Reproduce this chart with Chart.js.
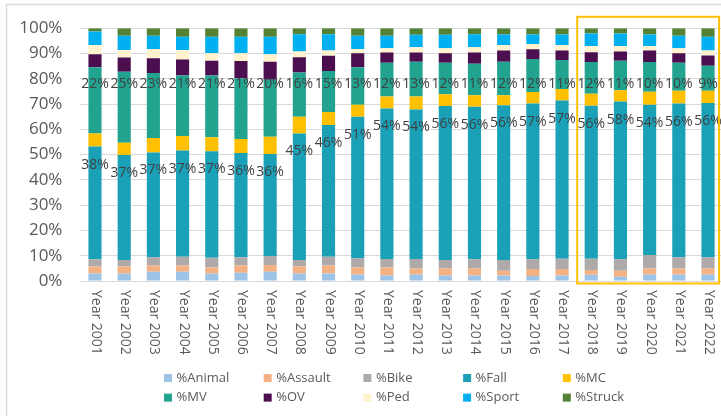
<!DOCTYPE html>
<html>
<head>
<meta charset="utf-8">
<script src="https://cdn.jsdelivr.net/npm/chart.js"></script>
<style>
  html, body { margin: 0; padding: 0; background: #fff; overflow: hidden; }
  #wrap { position: absolute; left: 0; top: 0; width: 728px; height: 416px; }
</style>
</head>
<body>
<div id="wrap"><canvas id="injuryChart"></canvas></div>
<script>
const years = [2001, 2002, 2003, 2004, 2005, 2006, 2007, 2008, 2009, 2010, 2011,
               2012, 2013, 2014, 2015, 2016, 2017, 2018, 2019, 2020, 2021, 2022];

// share of each bar (percent of the stack)
const animal  = [3.0, 3.0, 3.7, 3.7, 3.0, 3.3, 3.7, 3.0, 3.0, 2.6, 2.2, 2.6, 2.2, 2.2, 2.2, 2.0, 2.2, 2.5, 1.7, 2.6, 2.6, 2.6];
const assault = [2.7, 2.7, 2.4, 2.4, 2.3, 2.8, 2.6, 2.7, 3.1, 2.7, 3.1, 2.3, 2.7, 2.7, 1.9, 2.7, 2.5, 1.9, 2.4, 2.3, 2.3, 2.3];
const bike    = [2.9, 2.6, 3.3, 3.5, 3.9, 3.3, 3.6, 2.6, 3.5, 3.7, 3.4, 3.8, 3.4, 3.7, 4.2, 3.9, 4.1, 4.4, 4.5, 5.4, 4.5, 4.5];
const fall    = [44.6, 41.6, 41.5, 42.0, 42.1, 41.3, 40.4, 50.1, 52.1, 56.0, 59.6, 59.2, 61.0, 60.4, 61.2, 61.6, 62.6, 60.6, 62.4, 59.4, 60.8, 61.0];
const mc      = [5.2, 4.8, 5.7, 5.8, 5.6, 5.5, 6.8, 6.6, 5.2, 4.7, 4.7, 5.1, 4.6, 4.5, 4.0, 4.6, 4.6, 4.7, 4.5, 5.2, 5.1, 4.9];
const mv      = [26.2, 28.1, 25.7, 23.9, 24.4, 24.0, 22.5, 17.5, 16.2, 14.9, 13.4, 13.8, 12.5, 12.5, 13.3, 13.1, 11.5, 12.6, 11.7, 11.8, 11.1, 9.9];
const ov      = [5.1, 5.6, 5.8, 6.4, 5.9, 6.9, 7.2, 6.0, 6.0, 5.5, 4.0, 3.6, 3.7, 4.4, 4.4, 3.8, 3.7, 3.8, 3.6, 4.5, 3.7, 4.0];
const ped     = [3.7, 3.0, 3.7, 3.7, 2.9, 3.0, 2.9, 2.3, 2.1, 1.7, 1.7, 2.1, 2.0, 2.1, 2.2, 2.1, 2.2, 2.5, 2.2, 1.8, 2.0, 2.0];
const sport   = [5.3, 5.7, 5.3, 5.3, 6.6, 6.6, 7.0, 6.8, 6.4, 5.3, 5.0, 4.9, 5.3, 5.1, 4.1, 3.7, 4.1, 4.9, 4.9, 4.5, 5.0, 5.5];
const struck  = [1.3, 2.9, 2.9, 3.3, 3.3, 3.3, 3.3, 2.4, 2.4, 2.9, 2.9, 2.6, 2.6, 2.4, 2.5, 2.5, 2.5, 2.1, 2.1, 2.5, 2.9, 3.3];

// printed data labels
const fallLabels = [38, 37, 37, 37, 37, 36, 36, 45, 46, 51, 54, 54, 56, 56, 56, 57, 57, 56, 58, 54, 56, 56];
const mvLabels   = [22, 25, 23, 21, 21, 21, 20, 16, 15, 13, 12, 13, 12, 11, 12, 12, 11, 12, 11, 10, 10, 9];

const seriesNames = ['%Animal', '%Assault', '%Bike', '%Fall', '%MC', '%MV', '%OV', '%Ped', '%Sport', '%Struck'];
const seriesData = [animal, assault, bike, fall, mc, mv, ov, ped, sport, struck];
const seriesColors = ['#9DC3E6', '#F4B183', '#AEAAAA', '#1AA1B8', '#FFC000',
                      '#22A38F', '#4B0F50', '#FFF2CC', '#00B0F0', '#548235'];

const FONT = "'Open Sans', sans-serif";
const GREY = '#595959';

// 100% stacked: scale each year to its total
const totals = years.map((y, i) => seriesData.reduce((s, arr) => s + arr[i], 0));

const datasets = seriesNames.map((name, k) => ({
    label: name,
    data: seriesData[k].map((v, i) => v / totals[i] * 100),
    backgroundColor: seriesColors[k],
    borderWidth: 0,
    barPercentage: 0.45,
    categoryPercentage: 1
}));

const extras = {
    id: 'extras',
    beforeDraw(chart) {
        const ctx = chart.ctx;
        ctx.save();
        ctx.strokeStyle = '#D9D9D9';
        ctx.lineWidth = 1.5;
        ctx.strokeRect(6.5, 4.5, chart.width, chart.height);
        ctx.restore();
    },
    afterDatasetsDraw(chart) {
        const ctx = chart.ctx;
        const yScale = chart.scales.y;
        const fallBars = chart.getDatasetMeta(3).data;
        ctx.save();
        ctx.font = '14px ' + FONT;
        ctx.fillStyle = '#404040';
        ctx.textAlign = 'center';
        ctx.textBaseline = 'middle';
        fallBars.forEach((bar, i) => {
            ctx.fillText(fallLabels[i] + '%', bar.x, bar.y + 18);
        });
        const mvY = yScale.getPixelForValue(78);
        chart.getDatasetMeta(5).data.forEach((bar, i) => {
            ctx.fillText(mvLabels[i] + '%', bar.x, mvY);
        });
        ctx.restore();
    },
    afterDraw(chart) {
        const ctx = chart.ctx;
        const area = chart.chartArea;
        const xScale = chart.scales.x;
        const catW = xScale.getPixelForValue(1) - xScale.getPixelForValue(0);

        // x labels, rotated clockwise
        ctx.save();
        ctx.font = '14px ' + FONT;
        ctx.fillStyle = GREY;
        ctx.textAlign = 'left';
        ctx.textBaseline = 'middle';
        years.forEach((yr, i) => {
            ctx.save();
            ctx.translate(xScale.getPixelForValue(i) + 1, area.bottom + 9);
            ctx.rotate(Math.PI / 2);
            ctx.fillText('Year ' + yr, 0, 0);
            ctx.restore();
        });
        ctx.restore();

        // highlight box round the last five years
        ctx.save();
        ctx.strokeStyle = '#FFC000';
        ctx.lineWidth = 2;
        const hx0 = xScale.getPixelForValue(17) - catW * 0.48;
        const hx1 = xScale.getPixelForValue(21) + catW * 0.38;
        ctx.strokeRect(hx0, area.top - 11.5, hx1 - hx0, area.bottom - area.top + 14);
        ctx.restore();

        // legend: 5 columns, 2 rows
        ctx.save();
        ctx.font = '13px ' + FONT;
        ctx.textAlign = 'left';
        ctx.textBaseline = 'middle';
        seriesNames.forEach((name, k) => {
            const col = k % 5, row = Math.floor(k / 5);
            const bx = 164 + col * 99.7;
            const by = 378 + row * 19.6;
            ctx.fillStyle = seriesColors[k];
            ctx.fillRect(bx, by - 4, 8, 8);
            ctx.fillStyle = GREY;
            ctx.fillText(name, bx + 12.5, by);
        });
        ctx.restore();
    }
};

new Chart(document.getElementById('injuryChart').getContext('2d'), {
    type: 'bar',
    data: { labels: years.map(y => 'Year ' + y), datasets: datasets },
    options: {
        responsive: true,
        maintainAspectRatio: false,
        animation: false,
        layout: { padding: { top: 28.3, right: 5.4, bottom: 0, left: 0 } },
        plugins: {
            legend: { display: false },
            tooltip: { enabled: false }
        },
        scales: {
            x: {
                stacked: true,
                grid: { display: false },
                border: { display: true, color: '#D9D9D9', width: 1 },
                ticks: { display: false },
                afterFit: scale => { scale.height = 135; }
            },
            y: {
                stacked: true,
                min: 0,
                max: 100,
                border: { display: false },
                grid: { color: '#D9D9D9', drawTicks: false },
                ticks: {
                    stepSize: 10,
                    padding: 18,
                    color: GREY,
                    font: { family: FONT, size: 17 },
                    callback: v => v + '%'
                },
                afterFit: scale => { scale.width = 80.4; }
            }
        }
    },
    plugins: [extras]
});
</script>
</body>
</html>
